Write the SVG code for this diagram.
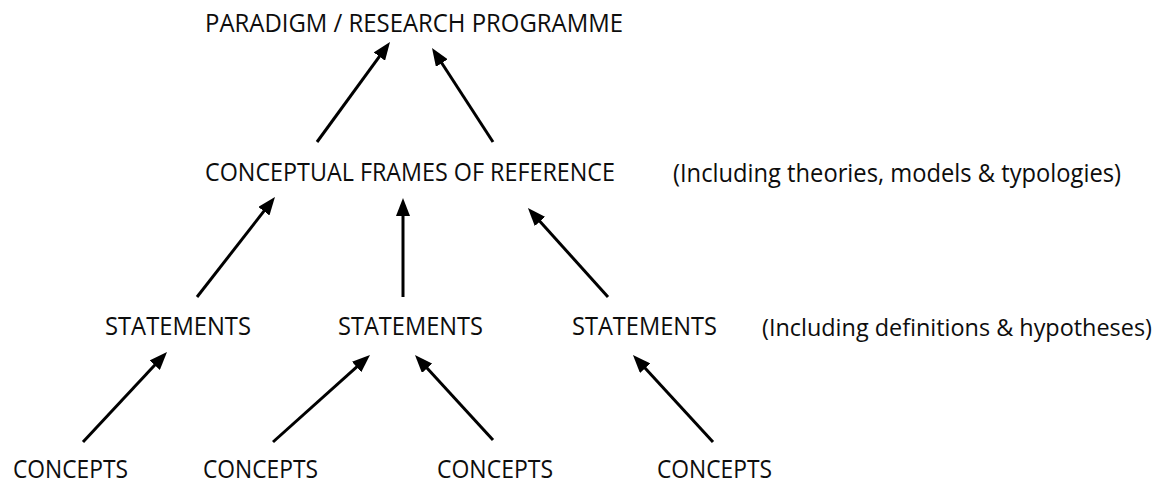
<svg xmlns="http://www.w3.org/2000/svg" width="1163" height="483" viewBox="0 0 1163 483">
<style>
text { font-family: "Open Sans", "Liberation Sans", sans-serif; font-size: 25px; fill: #0d0d0d; }
.note2 { font-size: 23px; }
.conn line { stroke: #000; stroke-width: 3; marker-end: url(#ah); }
</style>
<defs>
<marker id="ah" markerUnits="userSpaceOnUse" markerWidth="18" markerHeight="14" refX="7" refY="7" orient="auto">
<path d="M0,0 L18,7 L0,14 z" fill="#000"/>
</marker>
</defs>
<rect width="1163" height="483" fill="#fff"/>
<g id="paradigm"><text x="205" y="32" textLength="418" lengthAdjust="spacingAndGlyphs">PARADIGM / RESEARCH PROGRAMME</text></g>
<g id="frames"><text x="205" y="181" textLength="410" lengthAdjust="spacingAndGlyphs">CONCEPTUAL FRAMES OF REFERENCE</text></g>
<g id="frames-note"><text x="673" y="182" textLength="448" lengthAdjust="spacingAndGlyphs">(Including theories, models &amp; typologies)</text></g>
<g id="statements1"><text x="105" y="335" textLength="146" lengthAdjust="spacingAndGlyphs">STATEMENTS</text></g>
<g id="statements2"><text x="338" y="335" textLength="145" lengthAdjust="spacingAndGlyphs">STATEMENTS</text></g>
<g id="statements3"><text x="572" y="335" textLength="145" lengthAdjust="spacingAndGlyphs">STATEMENTS</text></g>
<g id="statements-note"><text class="note2" x="762" y="336" textLength="390" lengthAdjust="spacingAndGlyphs">(Including definitions &amp; hypotheses)</text></g>
<g id="concepts1"><text x="13" y="478" textLength="115" lengthAdjust="spacingAndGlyphs">CONCEPTS</text></g>
<g id="concepts2"><text x="203" y="478" textLength="115" lengthAdjust="spacingAndGlyphs">CONCEPTS</text></g>
<g id="concepts3"><text x="437" y="478" textLength="116" lengthAdjust="spacingAndGlyphs">CONCEPTS</text></g>
<g id="concepts4"><text x="657" y="478" textLength="115" lengthAdjust="spacingAndGlyphs">CONCEPTS</text></g>
<g id="connectors" class="conn">
<line x1="317" y1="142" x2="383.5" y2="50.9"/>
<line x1="493" y1="142" x2="438" y2="57.2"/>
<line x1="197" y1="297" x2="268.2" y2="205.7"/>
<line x1="403" y1="297" x2="403" y2="209"/>
<line x1="608" y1="297" x2="535.3" y2="216.2"/>
<line x1="83" y1="442" x2="159.5" y2="360"/>
<line x1="273" y1="442" x2="361.8" y2="362.3"/>
<line x1="493" y1="440" x2="422.4" y2="363.1"/>
<line x1="713" y1="442" x2="640.4" y2="363.1"/>
</g>
</svg>
